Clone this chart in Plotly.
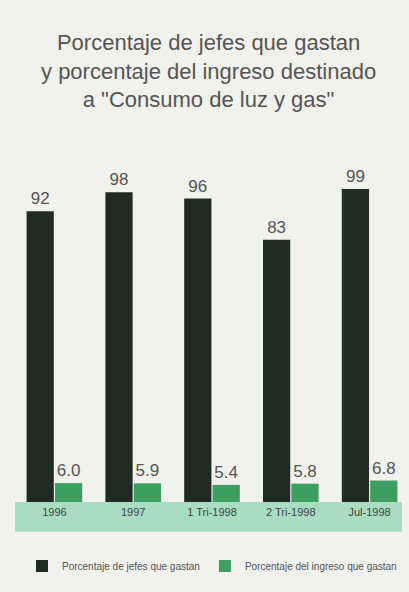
import plotly.graph_objects as go

categories = ["1996", "1997", "1 Tri-1998", "2 Tri-1998", "Jul-1998"]
jefes_gastan = [92, 98, 96, 83, 99]
ingreso_gastan = [6.0, 5.9, 5.4, 5.8, 6.8]
series_names = ["Porcentaje de jefes que gastan", "Porcentaje del ingreso que gastan"]

FONT = "Liberation Sans, Arial, sans-serif"

fig = go.Figure()
fig.add_trace(go.Bar(
    x=categories, y=jefes_gastan, name=series_names[0],
    marker=dict(color="#1f2c23", line=dict(width=0)),
    text=jefes_gastan, texttemplate="%{y:.0f}", textposition="outside",
    textfont=dict(size=17, color="#555555", family=FONT),
    cliponaxis=False,
))
fig.add_trace(go.Bar(
    x=categories, y=ingreso_gastan, name=series_names[1],
    marker=dict(color="#3c9f5f", line=dict(width=0)),
    text=ingreso_gastan, texttemplate="%{y:.1f}", textposition="outside",
    textfont=dict(size=17, color="#555555", family=FONT),
    cliponaxis=False,
))

fig.add_shape(type="rect", xref="paper", yref="paper",
              x0=0, x1=0.982, y0=-0.08, y1=0,
              fillcolor="#a9dcc1", line=dict(width=0), layer="below")

fig.update_layout(
    width=409, height=592,
    margin=dict(l=15, r=0, t=130, b=90),
    paper_bgcolor="#f1f1ee", plot_bgcolor="rgba(0,0,0,0)",
    barmode="group", bargap=0.28, bargroupgap=0.04,
    title=dict(
        text="Porcentaje de jefes que gastan<br>y porcentaje del ingreso destinado<br>a \"Consumo de luz y gas\"",
        x=0.51, xanchor="center", y=1 - 50 / 592, yanchor="middle",
        font=dict(size=22, color="#555555", family=FONT),
    ),
    showlegend=True,
    legend=dict(
        orientation="h", x=0.5, xanchor="center",
        yref="container", y=1 - 566 / 592, yanchor="middle",
        font=dict(size=10, color="#555555", family=FONT),
        itemwidth=30, bgcolor="rgba(0,0,0,0)",
    ),
    xaxis=dict(
        type="category", showgrid=False, showline=False, zeroline=False,
        ticks="", tickfont=dict(size=11, color="#444444", family=FONT),
        ticklabelstandoff=2,
    ),
    yaxis=dict(range=[0, 117.7], visible=False),
)

fig.write_html("out.html", config={"displayModeBar": False},
               post_script="document.body.style.margin='0';")
